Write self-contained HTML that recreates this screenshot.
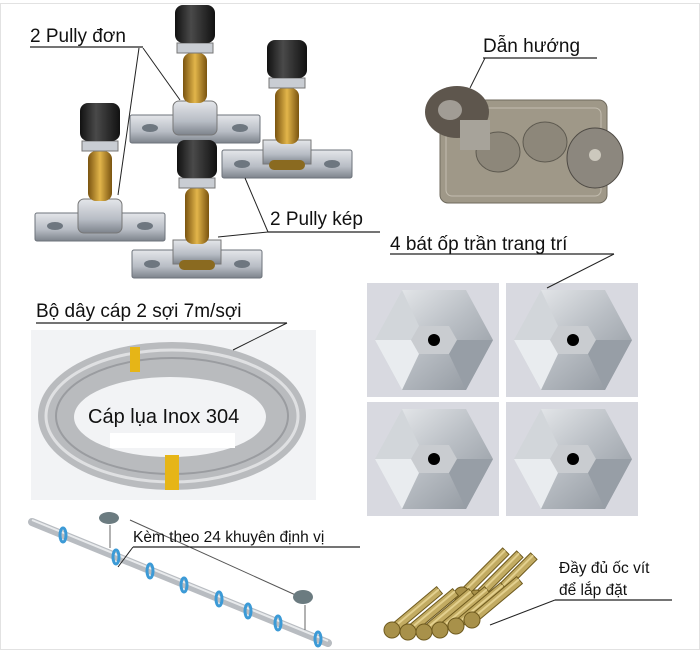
<!DOCTYPE html>
<html><head><meta charset="utf-8">
<style>
html,body{margin:0;padding:0;background:#fff;}
svg{display:block}
text{font-family:"Liberation Sans","DejaVu Sans",sans-serif;fill:#111}
</style></head><body>
<svg width="700" height="650" viewBox="0 0 700 650" xmlns="http://www.w3.org/2000/svg">
<defs>
<linearGradient id="steel" x1="0" y1="0" x2="0" y2="1"><stop offset="0" stop-color="#e4e6ea"/><stop offset="0.6" stop-color="#b7bcc4"/><stop offset="1" stop-color="#7d838c"/></linearGradient>
<linearGradient id="gold" x1="0" y1="0" x2="1" y2="0"><stop offset="0" stop-color="#7a5410"/><stop offset="0.5" stop-color="#e2b54a"/><stop offset="1" stop-color="#7a5410"/></linearGradient>
<linearGradient id="knob" x1="0" y1="0" x2="1" y2="0"><stop offset="0" stop-color="#111"/><stop offset="0.4" stop-color="#4a4a4a"/><stop offset="1" stop-color="#111"/></linearGradient>
<linearGradient id="hexg" x1="0" y1="0" x2="1" y2="1"><stop offset="0" stop-color="#eef0f2"/><stop offset="0.5" stop-color="#b9bec4"/><stop offset="1" stop-color="#8c939b"/></linearGradient>
<g id="hex">
<rect x="0" y="0" width="132" height="114" fill="#d8d9e0"/>
<polygon points="35,7 99,7 126,57 99,107 35,107 8,57" fill="url(#hexg)"/>
<polygon points="52,43 82,43 90,57 82,71 52,71 44,57" fill="#c9ccd0"/>
<polygon points="35,7 52,43 44,57 8,57" fill="#d2d6da"/>
<polygon points="8,57 44,57 52,71 35,107" fill="#e9ecef"/>
<polygon points="82,71 90,57 126,57 99,107" fill="#979ea6"/>
<circle cx="67" cy="57" r="6" fill="#000"/>
</g>
<g id="single">
<rect x="-65" y="0" width="130" height="28" rx="2" fill="url(#steel)" stroke="#6d737b"/>
<ellipse cx="-45" cy="13" rx="8" ry="4" fill="#6e7780"/><ellipse cx="45" cy="13" rx="8" ry="4" fill="#6e7780"/>
<rect x="-22" y="-14" width="44" height="34" rx="6" fill="url(#steel)" stroke="#777"/>
<rect x="-12" y="-62" width="24" height="50" rx="8" fill="url(#gold)"/>
<rect x="-18" y="-72" width="36" height="10" fill="#c9cdd3" stroke="#777"/>
<rect x="-20" y="-110" width="40" height="38" rx="8" fill="url(#knob)"/>
</g>
<g id="double">
<rect x="-65" y="0" width="130" height="28" rx="2" fill="url(#steel)" stroke="#6d737b"/>
<ellipse cx="-45" cy="14" rx="8" ry="4" fill="#6e7780"/><ellipse cx="45" cy="14" rx="8" ry="4" fill="#6e7780"/>
<rect x="-24" y="-10" width="48" height="24" fill="url(#steel)" stroke="#777"/>
<rect x="-18" y="10" width="36" height="10" rx="5" fill="#8a6a20"/>
<rect x="-12" y="-62" width="24" height="56" rx="8" fill="url(#gold)"/>
<rect x="-18" y="-72" width="36" height="10" fill="#c9cdd3" stroke="#777"/>
<rect x="-20" y="-110" width="40" height="38" rx="8" fill="url(#knob)"/>
</g>
<g id="screw">
<rect x="0" y="-4.5" width="62" height="9" fill="#c2ab62" stroke="#6e5a1e"/>
<rect x="0" y="-2" width="62" height="2" fill="#e3d08e"/>
<circle cx="0" cy="0" r="8" fill="#a8914a" stroke="#6e5a1e"/>
</g>
</defs>
<rect x="0.5" y="3.5" width="699" height="646" fill="#fff" stroke="#e2e2e2"/>

<!-- pulleys -->
<use href="#single" x="195" y="115"/>
<use href="#double" x="287" y="150"/>
<use href="#single" x="100" y="213"/>
<use href="#double" x="197" y="250"/>
<text x="30" y="42" font-size="19">2 Pully đơn</text>
<line x1="30" y1="47" x2="143" y2="47" stroke="#222" stroke-width="1.3"/>
<line x1="143" y1="48" x2="180" y2="100" stroke="#222"/>
<line x1="139" y1="48" x2="118" y2="195" stroke="#222"/>
<text x="270" y="225" font-size="19">2 Pully kép</text>
<line x1="268" y1="232" x2="380" y2="232" stroke="#222" stroke-width="1.3"/>
<line x1="268" y1="232" x2="245" y2="178" stroke="#222"/>
<line x1="268" y1="232" x2="218" y2="237" stroke="#222"/>

<!-- guide -->
<rect x="440" y="100" width="167" height="103" rx="8" fill="#9f9888" stroke="#6f6a5d"/>
<rect x="446" y="108" width="155" height="88" rx="6" fill="none" stroke="#c3bdaf"/>
<ellipse cx="498" cy="152" rx="22" ry="20" fill="#8d877a" stroke="#5e5a50"/>
<ellipse cx="545" cy="142" rx="22" ry="20" fill="#8d877a" stroke="#5e5a50"/>
<ellipse cx="457" cy="112" rx="32" ry="26" fill="#5e564d"/>
<ellipse cx="450" cy="110" rx="12" ry="10" fill="#a19c95"/>
<rect x="460" y="120" width="30" height="30" fill="#a7a39a"/>
<ellipse cx="595" cy="158" rx="28" ry="30" fill="#8c877e" stroke="#4e4a44"/>
<circle cx="595" cy="155" r="6" fill="#ccc8bd"/>
<text x="483" y="52" font-size="19">Dẫn hướng</text>
<line x1="483" y1="58" x2="597" y2="58" stroke="#222" stroke-width="1.3"/>
<line x1="485" y1="58" x2="470" y2="88" stroke="#222"/>

<!-- hex plates -->
<use href="#hex" x="367" y="283"/>
<use href="#hex" x="506" y="283"/>
<use href="#hex" x="367" y="402"/>
<use href="#hex" x="506" y="402"/>
<text x="390" y="250" font-size="19">4 bát ốp trần trang trí</text>
<line x1="390" y1="254" x2="614" y2="254" stroke="#222" stroke-width="1.3"/>
<line x1="614" y1="254" x2="547" y2="288" stroke="#222"/>

<!-- cable -->
<rect x="31" y="330" width="285" height="170" fill="#f2f3f5"/>
<ellipse cx="172" cy="416" rx="134" ry="74" fill="#b9bbbe"/>
<ellipse cx="172" cy="416" rx="126" ry="66" fill="none" stroke="#dfe0e2" stroke-width="3"/>
<ellipse cx="172" cy="416" rx="116" ry="58" fill="none" stroke="#9a9ca0" stroke-width="2"/>
<ellipse cx="170" cy="417" rx="96" ry="40" fill="#f2f3f5"/>
<rect x="130" y="347" width="10" height="25" fill="#e6b517"/>
<rect x="165" y="455" width="14" height="35" fill="#e6b517"/>
<rect x="110" y="433" width="125" height="15" fill="#fff"/>
<text x="88" y="423" font-size="20">Cáp lụa Inox 304</text>
<text x="36" y="317" font-size="19">Bộ dây cáp 2 sợi 7m/sợi</text>
<line x1="36" y1="323" x2="287" y2="323" stroke="#222" stroke-width="1.3"/>
<line x1="287" y1="323" x2="233" y2="350" stroke="#222"/>

<!-- rod -->
<line x1="32" y1="522" x2="328" y2="643" stroke="#b8bcc1" stroke-width="8" stroke-linecap="round"/>
<line x1="32" y1="520" x2="328" y2="641" stroke="#e8eaec" stroke-width="2"/>
<line x1="110" y1="525" x2="110" y2="548" stroke="#666"/>
<line x1="305" y1="605" x2="305" y2="630" stroke="#666"/>
<line x1="130" y1="520" x2="300" y2="597" stroke="#555"/>
<ellipse cx="109" cy="518" rx="10" ry="6" fill="#6b7b80"/>
<ellipse cx="303" cy="597" rx="10" ry="7" fill="#6b7b80"/>
<g fill="none" stroke="#3c9ad6" stroke-width="3">
<ellipse cx="63" cy="535" rx="3" ry="7"/><ellipse cx="116" cy="557" rx="3" ry="7"/>
<ellipse cx="150" cy="571" rx="3" ry="7"/><ellipse cx="184" cy="585" rx="3" ry="7"/>
<ellipse cx="219" cy="599" rx="3" ry="7"/><ellipse cx="248" cy="611" rx="3" ry="7"/>
<ellipse cx="278" cy="623" rx="3" ry="7"/><ellipse cx="318" cy="639" rx="3" ry="7"/>
</g>
<text x="133" y="542" font-size="15.5">Kèm theo 24 khuyên định vị</text>
<line x1="133" y1="547" x2="360" y2="547" stroke="#222" stroke-width="1.2"/>
<line x1="133" y1="547" x2="118" y2="567" stroke="#222"/>

<!-- screws -->
<g>
<use href="#screw" transform="translate(462,595) rotate(-45)"/>
<use href="#screw" transform="translate(476,598) rotate(-45)"/>
<use href="#screw" transform="translate(490,600) rotate(-45)"/>
<use href="#screw" transform="translate(392,630) rotate(-40)"/>
<use href="#screw" transform="translate(408,632) rotate(-40)"/>
<use href="#screw" transform="translate(424,632) rotate(-40)"/>
<use href="#screw" transform="translate(440,630) rotate(-40)"/>
<use href="#screw" transform="translate(456,626) rotate(-40)"/>
<use href="#screw" transform="translate(472,620) rotate(-40)"/>
</g>
<text x="559" y="573" font-size="15.5">Đầy đủ ốc vít</text>
<text x="559" y="595" font-size="15.5">để lắp đặt</text>
<line x1="555" y1="600" x2="672" y2="600" stroke="#222" stroke-width="1.2"/>
<line x1="555" y1="600" x2="490" y2="625" stroke="#222"/>
</svg>
</body></html>
